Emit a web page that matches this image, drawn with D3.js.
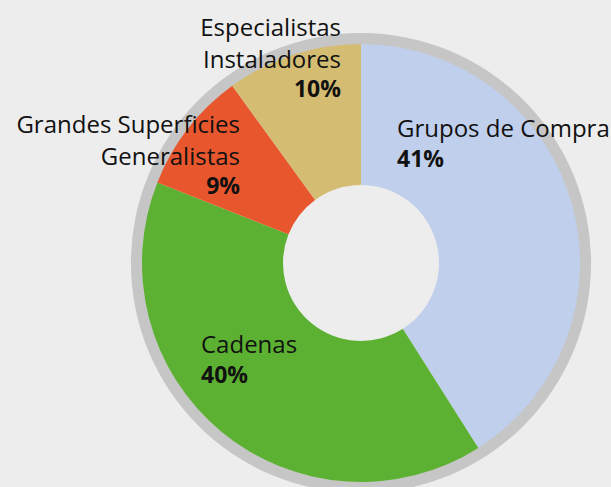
<!DOCTYPE html>
<html>
<head>
<meta charset="utf-8">
<script src="https://cdn.jsdelivr.net/npm/d3@7"></script>
<style>
  html, body { margin: 0; padding: 0; background: #ededed; }
  svg { display: block; }
  text { font-family: "Open Sans", sans-serif; fill: #111; }
</style>
</head>
<body>
<script>
// data
var categories = ["Grupos de Compra", "Cadenas", "Grandes Superficies Generalistas", "Especialistas Instaladores"];
var values = [41, 40, 9, 10];
var labelLines = [["Grupos de Compra"], ["Cadenas"], ["Grandes Superficies", "Generalistas"], ["Especialistas", "Instaladores"]];
var colors = ["#c0cfeb", "#5db132", "#e8562d", "#d4bc72"];

var width = 611, height = 487,
    cx = 361, cy = 263,
    rOuter = 219, rInner = 78, ringOuter = 230

// label layout: offset from the centre, anchor
var labelLayout = [
  { dx: 36, dy: -126, anchor: "start" },
  { dx: -160, dy: 90, anchor: "start" },
  { dx: -121, dy: -130, anchor: "end" },
  { dx: -20, dy: -227, anchor: "end" }
]

var data = categories.map((c, i) => ({ name: c, value: values[i], lines: labelLines[i], color: colors[i] }))

var svg = d3.select("body").append("svg")
    .attr("width", width)
    .attr("height", height)

var g = svg.append("g")
    .attr("transform", `translate(${cx},${cy})`)

// gray outer ring
g.append("path")
    .attr("d", d3.arc().innerRadius(rOuter - 1).outerRadius(ringOuter)({ startAngle: 0, endAngle: 2 * Math.PI }))
    .attr("fill", "#c6c6c6")

var pie = d3.pie().sort(null).value(d => d.value)
var arc = d3.arc().innerRadius(rInner).outerRadius(rOuter)

g.selectAll("path.slice")
    .data(pie(data))
    .enter()
    .append("path")
    .attr("class", "slice")
    .attr("d", arc)
    .attr("fill", d => d.data.color)

var lineH = 31.5

var labels = g.selectAll("g.label")
    .data(data)
    .enter()
    .append("g")
    .attr("class", "label")
    .attr("transform", (d, i) => `translate(${labelLayout[i].dx},${labelLayout[i].dy})`)
    .attr("text-anchor", (d, i) => labelLayout[i].anchor)

labels.each(function(d) {
    var sel = d3.select(this)
    d.lines.forEach((l, j) => {
        sel.append("text")
            .attr("y", j * lineH)
            .attr("font-size", 24)
            .text(l)
    })
    sel.append("text")
        .attr("y", d.lines.length * lineH - 2)
        .attr("font-size", 23)
        .attr("font-weight", "bold")
        .text(d.value + "%")
})
</script>
</body>
</html>
